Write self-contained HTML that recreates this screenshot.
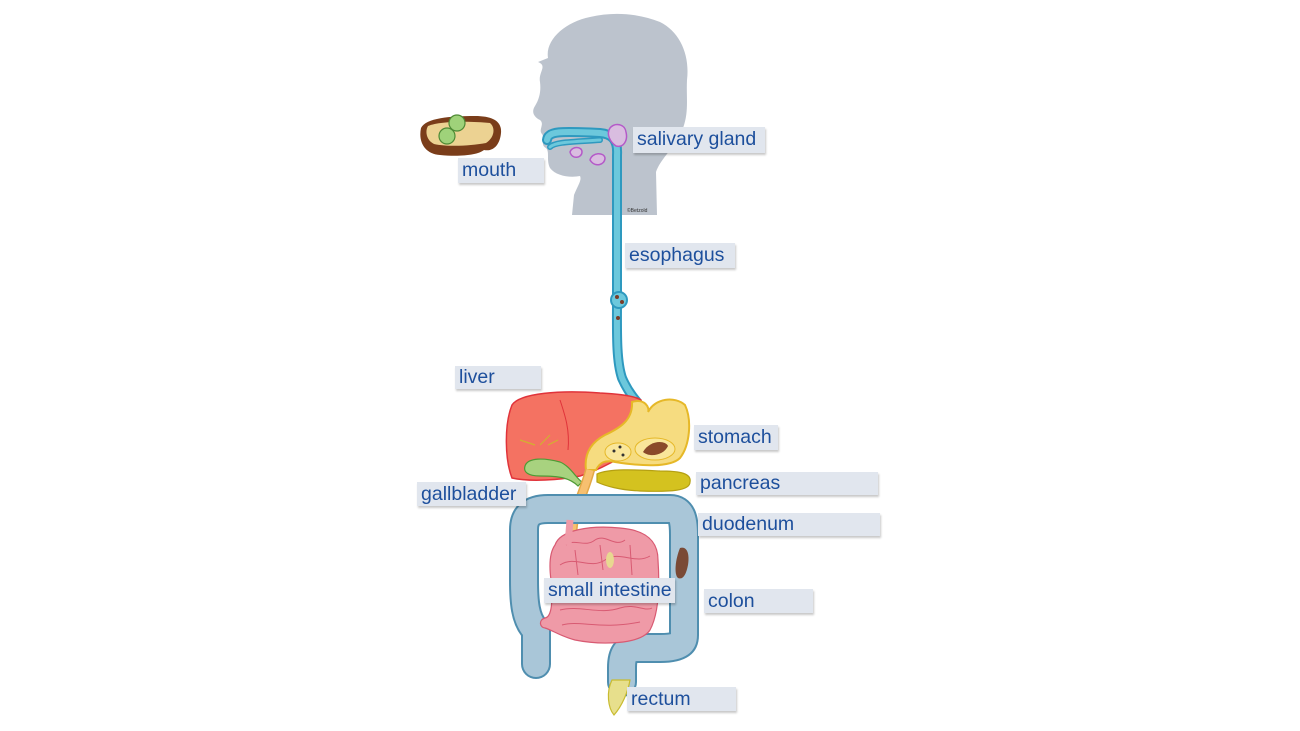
<!DOCTYPE html>
<html><head><meta charset="utf-8"><style>
html,body{margin:0;padding:0;background:#fff;}
body{width:1300px;height:731px;position:relative;overflow:hidden;font-family:"Liberation Sans",sans-serif;}
.l{position:absolute;background:#e1e6ee;color:#1d4f9c;font-size:19.5px;line-height:24px;padding-left:4px;box-sizing:border-box;box-shadow:1px 2px 2px rgba(0,0,0,0.22);white-space:nowrap;}
</style></head><body>
<svg width="1300" height="731" style="position:absolute;left:0;top:0">
<path d="M548,58 C545,40 565,22 590,17 C615,11 640,14 660,22 C680,32 690,55 687,80 C686,100 690,115 680,135 C672,150 660,160 656,172 L657,215 L572,215 L574,195 C578,185 582,180 580,176 C570,178 556,176 550,168 C546,160 550,152 546,148 C540,145 545,138 542,134 C538,130 545,124 540,120 C534,117 531,112 535,106 C540,98 541,90 540,82 C538,72 548,66 538,62 Z" fill="#bcc3cd"/>
<text x="627" y="212" font-size="5" fill="#333" font-family="Liberation Sans">©Betzold</text>
<path d="M421,128 C426,118 450,116 475,116 C494,116 502,122 501,133 C500,144 494,152 484,150 C478,155 460,157 440,155 C425,154 418,142 421,128 Z" fill="#7a3d1a"/>
<path d="M428,126 C440,121 470,121 490,123 C496,128 494,138 486,143 C470,146 448,147 434,144 C426,140 425,131 428,126 Z" fill="#ecd292"/>
<circle cx="457" cy="123" r="8" fill="#9fd27a" stroke="#4e8a35" stroke-width="1.2"/>
<circle cx="447" cy="136" r="8" fill="#9fd27a" stroke="#4e8a35" stroke-width="1.2"/>
<path d="M547,140 C548,131 560,131 600,133 C612,134 618,140 617,155 L617,300 C617,330 616,360 622,378 C628,392 634,398 637,402" fill="none" stroke="#2e99bf" stroke-width="10" stroke-linecap="round"/>
<path d="M547,140 C548,131 560,131 600,133 C612,134 618,140 617,155 L617,300 C617,330 616,360 622,378 C628,392 634,398 637,402" fill="none" stroke="#6cc8dc" stroke-width="6" stroke-linecap="round"/>
<path d="M550,147 C555,142 570,142 600,140" fill="none" stroke="#2e99bf" stroke-width="6" stroke-linecap="round"/>
<path d="M550,147 C555,142 570,142 600,140" fill="none" stroke="#6cc8dc" stroke-width="3" stroke-linecap="round"/>
<circle cx="619" cy="300" r="8" fill="#6cc8dc" stroke="#2e99bf" stroke-width="2"/>
<circle cx="617" cy="297" r="2" fill="#7a3d2a"/><circle cx="622" cy="302" r="2" fill="#7a3d2a"/><circle cx="618" cy="318" r="2" fill="#7a3d2a"/>
<path d="M610,128 C615,122 625,124 626,132 C628,140 624,148 616,146 C610,142 606,134 610,128 Z" fill="#d9bde0" stroke="#b45ac8" stroke-width="1.5"/>
<path d="M570,152 C572,146 582,146 582,152 C582,158 572,160 570,152 Z" fill="#d9bde0" stroke="#b45ac8" stroke-width="1.5"/>
<path d="M590,160 C592,152 604,152 605,158 C605,165 595,168 590,160 Z" fill="#d9bde0" stroke="#b45ac8" stroke-width="1.5"/>
<path d="M512,405 C520,393 560,390 600,393 C620,394 635,396 641,400 L641,445 C620,458 600,470 580,476 C560,480 530,482 512,478 C505,460 504,425 512,405 Z" fill="#f47262" stroke="#e0333a" stroke-width="1.5"/>
<path d="M560,400 C565,415 570,430 568,450" fill="none" stroke="#e0333a" stroke-width="1"/>
<path d="M520,440 L535,445 M540,445 L550,435 M548,445 L558,440" stroke="#d2b030" stroke-width="1.2" fill="none"/>
<path d="M525,466 C528,457 545,458 560,462 C570,466 576,478 582,482 L578,486 C570,478 560,476 540,476 C528,476 523,472 525,466 Z" fill="#a8d27f" stroke="#4e9a35" stroke-width="1.2"/>
<path d="M632,402 C645,398 650,408 648,412 C655,398 675,396 685,405 C692,420 690,445 680,458 C670,468 640,466 615,462 C605,460 600,462 596,470 L586,470 C584,455 590,443 605,435 C620,428 633,420 632,402 Z" fill="#f6dc80" stroke="#e6b828" stroke-width="2"/>
<ellipse cx="618" cy="452" rx="13" ry="9" fill="#f9e69a" stroke="#e6b828" stroke-width="1"/>
<ellipse cx="655" cy="449" rx="20" ry="11" fill="#f9e69a" stroke="#e6b828" stroke-width="1"/>
<path d="M643,452 C650,440 665,440 668,446 C664,455 650,458 643,452 Z" fill="#8a4a2a"/>
<circle cx="614" cy="451" r="1.5" fill="#333"/><circle cx="620" cy="447" r="1.5" fill="#333"/><circle cx="623" cy="455" r="1.5" fill="#333"/>
<path d="M597,474 C610,468 640,470 660,471 C675,471 692,472 690,482 C690,491 670,492 640,491 C620,490 605,486 597,482 Z" fill="#d4c21f" stroke="#b5a012" stroke-width="1.2"/>
<path d="M590,470 C585,490 576,505 573,525 L571,545" fill="none" stroke="#e3a848" stroke-width="10"/>
<path d="M590,470 C585,490 576,505 573,525 L571,545" fill="none" stroke="#f7c070" stroke-width="7"/>
<g fill="none" stroke-linejoin="round" stroke-linecap="round">
<path d="M536,664 L536,630 C525,620 524,600 524,580 L524,530 C524,515 532,509 548,509 L670,509 C682,509 684,520 684,535 L684,635 C684,645 676,648 660,648 L638,648 C625,648 622,655 622,668 L622,682" stroke="#4f8eaf" stroke-width="30"/>
<path d="M536,664 L536,630 C525,620 524,600 524,580 L524,530 C524,515 532,509 548,509 L670,509 C682,509 684,520 684,535 L684,635 C684,645 676,648 660,648 L638,648 C625,648 622,655 622,668 L622,682" stroke="#a9c6d8" stroke-width="26"/>
</g>
<path d="M555,545 C560,530 590,525 620,528 C645,530 658,540 658,560 C660,590 658,615 650,630 C640,645 600,645 575,640 C560,636 552,630 545,628 C540,628 538,620 545,618 C552,617 553,600 551,580 C549,565 550,552 555,545 Z" fill="#ef9aa7" stroke="#d85a72" stroke-width="1.2"/>
<path d="M566,545 C575,538 585,548 595,540 C605,533 615,548 625,540 M560,565 C575,555 590,570 605,560 C620,550 635,565 650,556 M560,610 C580,605 600,615 620,608 C635,603 645,612 652,608 M562,625 C580,620 600,630 640,622 M575,550 L578,575 M600,545 L603,570 M630,545 L632,575" fill="none" stroke="#d85a72" stroke-width="1"/>
<path d="M568,545 L570,520" stroke="#ef9aa7" stroke-width="7"/>
<ellipse cx="610" cy="560" rx="4" ry="8" fill="#e8d890"/>
<path d="M680,548 C686,546 690,552 688,565 C686,575 683,580 678,578 C674,575 675,560 680,548 Z" fill="#7a4a36"/>
<path d="M612,680 L630,680 C628,692 622,706 614,715 C608,708 606,692 612,680 Z" fill="#e7df8c" stroke="#c8bb30" stroke-width="1.2"/>
</svg>
<div class="l" style="left:458px;top:158px;width:86px;height:25px;">mouth</div>
<div class="l" style="left:633px;top:127px;width:132px;height:26px;">salivary gland</div>
<div class="l" style="left:625px;top:243px;width:110px;height:25px;">esophagus</div>
<div class="l" style="left:455px;top:366px;width:86px;height:23px;line-height:22px;">liver</div>
<div class="l" style="left:694px;top:425px;width:84px;height:25px;">stomach</div>
<div class="l" style="left:696px;top:472px;width:182px;height:23px;line-height:23px;">pancreas</div>
<div class="l" style="left:417px;top:482px;width:109px;height:24px;">gallbladder</div>
<div class="l" style="left:698px;top:513px;width:182px;height:23px;line-height:23px;">duodenum</div>
<div class="l" style="left:544px;top:578px;width:131px;height:25px;">small intestine</div>
<div class="l" style="left:704px;top:589px;width:109px;height:24px;">colon</div>
<div class="l" style="left:627px;top:687px;width:109px;height:24px;">rectum</div>
</body></html>
